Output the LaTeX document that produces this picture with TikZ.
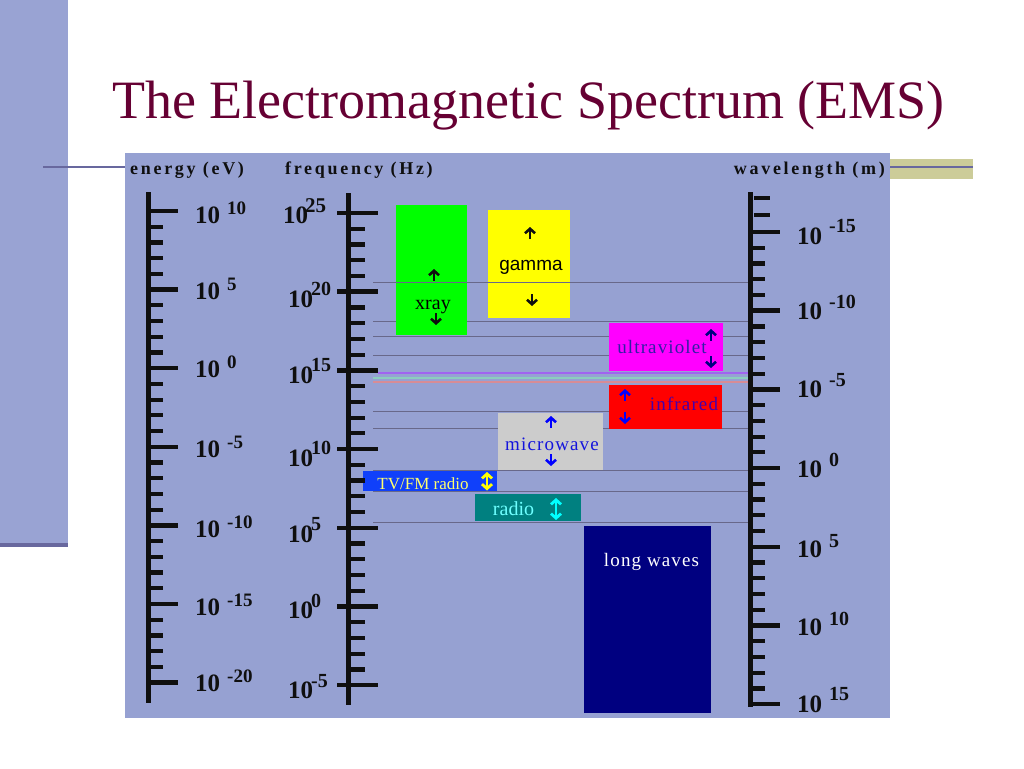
\documentclass[tikz,border=0pt]{standalone}
\usepackage{fontspec}
\usetikzlibrary{arrows.meta}
\setmainfont{Liberation Serif}
\newfontfamily\sansf{Liberation Sans}
\newfontfamily\hdrf{Liberation Serif}[LetterSpace=15]
\newfontfamily\boxf{Liberation Serif}[LetterSpace=6]
\newcommand\myfs[1]{\fontsize{#1}{#1}\selectfont}
\definecolor{panel}{RGB}{150,161,210}
\definecolor{sidebar}{RGB}{153,163,211}
\definecolor{sideline}{RGB}{104,104,158}
\definecolor{khaki}{RGB}{204,204,153}
\definecolor{titlec}{RGB}{102,0,51}
\definecolor{gline}{RGB}{104,104,138}
\definecolor{vline}{RGB}{160,100,240}
\definecolor{cline}{RGB}{140,205,190}
\definecolor{pline}{RGB}{215,140,150}
\definecolor{xgreen}{RGB}{0,255,0}
\definecolor{gyellow}{RGB}{255,255,0}
\definecolor{uvmag}{RGB}{255,0,255}
\definecolor{irred}{RGB}{255,0,0}
\definecolor{mwgray}{RGB}{204,204,204}
\definecolor{tvblue}{RGB}{16,64,250}
\definecolor{rteal}{RGB}{0,128,128}
\definecolor{lwnavy}{RGB}{0,0,128}
\definecolor{uvtext}{RGB}{50,30,165}
\definecolor{irtext}{RGB}{70,0,170}
\definecolor{mwtext}{RGB}{20,20,220}
\definecolor{arrblue}{RGB}{0,0,255}
\definecolor{tvtext}{RGB}{255,255,110}
\definecolor{rtext}{RGB}{110,255,255}
\definecolor{tvarrc}{RGB}{255,255,0}
\definecolor{rarrc}{RGB}{0,255,255}
\definecolor{ink}{RGB}{15,15,15}
\begin{document}
\begin{tikzpicture}[x=1pt,y=-1pt,
  bar/.style={line width=5pt,ink},
  majtick/.style={line width=4.5pt,ink},
  mintick/.style={line width=4.2pt,ink},
  grid/.style={gline,line width=0.9pt},
  boxst/.style={anchor=north west,inner sep=0,outer sep=0,draw=none},
  lbl/.style={anchor=base,inner sep=0},
  symarr/.style={line width=2.6pt,-{Straight Barb[length=4.5pt,width=10pt]}},
  symdarr/.style={line width=2.8pt,{Straight Barb[length=4.5pt,width=10pt]}-{Straight Barb[length=4.5pt,width=10pt]}},
  elbl/.style={anchor=base west,inner sep=0,text=ink,font=\bfseries\myfs{25}},
  hdr/.style={anchor=base west,inner sep=0,text=ink,font=\hdrf\bfseries\myfs{18}}]
\useasboundingbox (0,0) rectangle (1024,768);
\fill[white] (0,0) rectangle (1024,768);
% side bar and decorative lines
\fill[sidebar] (0,0) rectangle (68,545);
\draw[sideline,line width=4pt] (0,545) -- (68,545);
\draw[sideline,line width=2.5pt] (43,167) -- (973,167);
\fill[khaki] (890,159) rectangle (973,179);
\draw[sideline,line width=2.5pt] (890,167) -- (973,167);
% panel
\fill[panel] (125,153) rectangle (890,718);
% title
\node[anchor=base,inner sep=0,text=titlec,font=\myfs{54}] (title) at (528.5,118) {The Electromagnetic Spectrum (EMS)};
% headers
\node[hdr] (henergy) at (130,174) {energy (eV)};
\node[hdr] (hfreq) at (285,174) {frequency (Hz)};
\node[hdr,anchor=base east] (hwave) at (885,174) {wavelength (m)};
% grid lines (behind boxes)
\foreach \yy in {321,336,355,411,428,470,491,522} \draw[grid] (373,\yy) -- (750,\yy);
\draw[pline,line width=1.2pt] (373,382) -- (750,382);
\draw[cline,line width=1.2pt] (373,378) -- (750,378);
\draw[vline,line width=1.5pt] (378,373) -- (750,373);
% boxes
\node[boxst,fill=xgreen,minimum width=71pt,minimum height=130pt] (xray) at (396,205) {};
\node[boxst,fill=gyellow,minimum width=82pt,minimum height=108pt] (gamma) at (488,210) {};
\node[boxst,fill=uvmag,minimum width=114pt,minimum height=48pt] (uv) at (609,323) {};
\node[boxst,fill=irred,minimum width=113pt,minimum height=44pt] (ir) at (609,385) {};
\node[boxst,fill=mwgray,minimum width=105pt,minimum height=57pt] (mw) at (498,413) {};
\node[boxst,fill=tvblue,minimum width=134pt,minimum height=20pt] (tv) at (363,471) {};
\node[boxst,fill=rteal,minimum width=106pt,minimum height=27pt] (radio) at (475,494) {};
\node[boxst,fill=lwnavy,minimum width=127pt,minimum height=187pt] (lw) at (584,526) {};
\draw[grid] (373,282) -- (750,282);
% box texts
\node[lbl,font=\myfs{20}] (xraytxt) at (433,309) {xray};
\node[lbl,font=\sansf\myfs{19}] (gammatxt) at (531,270) {gamma};
\node[lbl,font=\boxf\myfs{19},text=uvtext] (uvtxt) at (662,353) {ultraviolet};
\node[lbl,font=\boxf\myfs{19},text=irtext] (irtxt) at (684,410) {infrared};
\node[lbl,font=\boxf\myfs{19},text=mwtext] (mwtxt) at (552,450) {microwave};
\node[lbl,font=\myfs{17},text=tvtext] (tvtxt) at (423,489) {TV/FM radio};
\node[lbl,font=\myfs{20},text=rtext] (radiotxt) at (513.5,515) {radio};
\node[lbl,font=\boxf\myfs{19},text=white] (lwtxt) at (651.5,566) {long waves};
% small arrow symbols (tail / head coordinates)
\coordinate (xu0) at (434,281); \coordinate (xu1) at (434,269);
\coordinate (xd0) at (436,313); \coordinate (xd1) at (436,325);
\coordinate (gu0) at (530,239); \coordinate (gu1) at (530,227);
\coordinate (gd0) at (532,294); \coordinate (gd1) at (532,306);
\coordinate (uu0) at (711,341); \coordinate (uu1) at (711,329);
\coordinate (ud0) at (711,356); \coordinate (ud1) at (711,368);
\coordinate (iu0) at (625,401); \coordinate (iu1) at (625,389);
\coordinate (id0) at (625,412); \coordinate (id1) at (625,424);
\coordinate (mu0) at (551,428); \coordinate (mu1) at (551,416);
\coordinate (md0) at (551,454); \coordinate (md1) at (551,466);
\coordinate (tva) at (487,472); \coordinate (tvb) at (487,490.5);
\coordinate (ra) at (556,498); \coordinate (rb) at (556,520);
\draw[symarr,ink] (xu0) -- (xu1);
\draw[symarr,ink] (xd0) -- (xd1);
\draw[symarr,ink] (gu0) -- (gu1);
\draw[symarr,ink] (gd0) -- (gd1);
\draw[symarr,lwnavy] (uu0) -- (uu1);
\draw[symarr,lwnavy] (ud0) -- (ud1);
\draw[symarr,arrblue] (iu0) -- (iu1);
\draw[symarr,arrblue] (id0) -- (id1);
\draw[symarr,arrblue] (mu0) -- (mu1);
\draw[symarr,arrblue] (md0) -- (md1);
\draw[symdarr,tvarrc] (tva) -- (tvb);
\draw[symdarr,rarrc] (ra) -- (rb);
% energy scale
\draw[bar] (148,192) -- (148,703);
\foreach \k in {0,...,6} \draw[majtick] (148,{211+78.6*\k}) -- (178,{211+78.6*\k});
\foreach \k in {0,...,5} \foreach \j in {1,...,4} \draw[mintick] (148,{211+78.6*\k+15.72*\j}) -- (163,{211+78.6*\k+15.72*\j});
\node[elbl] (e1) at (195,223) {10\hspace{7pt}\raisebox{9pt}{\myfs{19}10}};
\node[elbl] (e2) at (195,299) {10\hspace{7pt}\raisebox{9pt}{\myfs{19}5}};
\node[elbl] (e3) at (195,377) {10\hspace{7pt}\raisebox{9pt}{\myfs{19}0}};
\node[elbl] (e4) at (195,457) {10\hspace{7pt}\raisebox{9pt}{\myfs{19}-5}};
\node[elbl] (e5) at (195,537) {10\hspace{7pt}\raisebox{9pt}{\myfs{19}-10}};
\node[elbl] (e6) at (195,615) {10\hspace{7pt}\raisebox{9pt}{\myfs{19}-15}};
\node[elbl] (e7) at (195,691) {10\hspace{7pt}\raisebox{9pt}{\myfs{19}-20}};
% frequency scale
\draw[bar] (348,193) -- (348,705);
\foreach \k in {0,...,6} \draw[majtick] (337,{213+78.7*\k}) -- (378,{213+78.7*\k});
\foreach \k in {0,...,5} \foreach \j in {1,...,4} \draw[mintick] (348,{213+78.7*\k+15.74*\j}) -- (365,{213+78.7*\k+15.74*\j});
\node[elbl] (f1) at (283,223) {10\kern-3pt\raisebox{11pt}{\myfs{21}25}};
\node[elbl] (f2) at (288,307) {10\kern-2pt\raisebox{12pt}{\myfs{20}20}};
\node[elbl] (f3) at (288,383) {10\kern-2pt\raisebox{12pt}{\myfs{20}15}};
\node[elbl] (f4) at (288,466) {10\kern-2pt\raisebox{12pt}{\myfs{20}10}};
\node[elbl] (f5) at (288,542) {10\kern-2pt\raisebox{12pt}{\myfs{20}5}};
\node[elbl] (f6) at (288,618) {10\kern-2pt\raisebox{11pt}{\myfs{20}0}};
\node[elbl] (f7) at (288,698) {10\kern-2pt\raisebox{11pt}{\myfs{20}-5}};
% wavelength scale
\draw[bar] (750,192) -- (750,706.5);
\foreach \k in {0,...,6} \draw[majtick] (750,{232+78.7*\k}) -- (780,{232+78.7*\k});
\foreach \k in {0,...,5} \foreach \j in {1,...,4} \draw[mintick] (750,{232+78.7*\k+15.74*\j}) -- (765,{232+78.7*\k+15.74*\j});
\draw[mintick] (754,198) -- (770,198);
\draw[mintick] (754,215) -- (770,215);
\node[elbl] (w1) at (797,244) {10\hspace{7pt}\raisebox{12pt}{\myfs{20}-15}};
\node[elbl] (w2) at (797,319) {10\hspace{7pt}\raisebox{11pt}{\myfs{20}-10}};
\node[elbl] (w3) at (797,397) {10\hspace{7pt}\raisebox{11pt}{\myfs{20}-5}};
\node[elbl] (w4) at (797,477) {10\hspace{7pt}\raisebox{11pt}{\myfs{20}0}};
\node[elbl] (w5) at (797,557) {10\hspace{7pt}\raisebox{10pt}{\myfs{20}5}};
\node[elbl] (w6) at (797,635) {10\hspace{7pt}\raisebox{10pt}{\myfs{20}10}};
\node[elbl] (w7) at (797,712) {10\hspace{7pt}\raisebox{12pt}{\myfs{20}15}};
\end{tikzpicture}
\end{document}
